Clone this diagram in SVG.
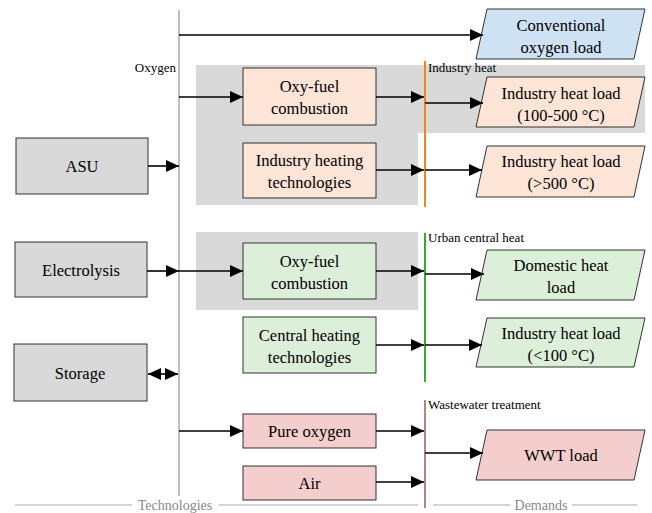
<svg xmlns="http://www.w3.org/2000/svg" width="652" height="513" viewBox="0 0 652 513">
<defs>
<marker id="ah" markerUnits="userSpaceOnUse" markerWidth="13" markerHeight="12" refX="13" refY="6" orient="auto-start-reverse"><path d="M0,0 L13,6 L0,12 z" fill="#000"/></marker>
<style>
.t{font-size:16.5px;text-anchor:middle;fill:#000}
.s{font-size:13px;fill:#000}
.g{font-size:14px;fill:#888;text-anchor:middle}
.box{stroke:#333;stroke-width:1}
.gray{fill:#d9d9d9}
.or{fill:#fce4d6}
.gr{fill:#dcefd9}
.pk{fill:#f4cdcd}
.bl{fill:#cfe2f3}
.c{stroke:#000;stroke-width:1.6;fill:none}
.a{marker-end:url(#ah)}
</style>
</defs>
<g id="backgrounds">
<path d="M196,65 H645 V133 H418 V205 H196 Z" fill="#d9d9d9"/>
<rect x="196" y="232" width="222" height="78" fill="#d9d9d9"/>
</g>
<g id="axes">
<line x1="179" y1="10" x2="179" y2="496" stroke="#aaa" stroke-width="1.5"/>
<line x1="15" y1="505" x2="132" y2="505" stroke="#aaa" stroke-width="1.2"/>
<line x1="219" y1="505" x2="418" y2="505" stroke="#aaa" stroke-width="1.2"/>
<text class="g" font-family="Liberation Serif" x="175" y="510">Technologies</text>
<line x1="433" y1="505" x2="510" y2="505" stroke="#aaa" stroke-width="1.2"/>
<line x1="572" y1="505" x2="637" y2="505" stroke="#aaa" stroke-width="1.2"/>
<text class="g" font-family="Liberation Serif" x="541" y="510">Demands</text>
<text class="s" font-family="Liberation Serif" x="176" y="72" text-anchor="end">Oxygen</text>
</g>
<g id="buses">
<line x1="425" y1="61" x2="425" y2="207" stroke="#f5831f" stroke-width="2"/>
<text class="s" font-family="Liberation Serif" x="428" y="72">Industry heat</text>
<line x1="425" y1="233" x2="425" y2="382" stroke="#3aa53a" stroke-width="2"/>
<text class="s" font-family="Liberation Serif" x="428" y="242">Urban central heat</text>
<line x1="425" y1="400" x2="425" y2="508" stroke="#9a6a5e" stroke-width="1.6"/>
<text class="s" font-family="Liberation Serif" x="428" y="409">Wastewater treatment</text>
</g>
<g id="asu"><rect class="box gray" x="16" y="138" width="132" height="56"/><text class="t" font-family="Liberation Serif" x="82" y="172">ASU</text></g>
<g id="electrolysis"><rect class="box gray" x="15" y="242" width="132" height="55"/><text class="t" font-family="Liberation Serif" x="81" y="276">Electrolysis</text></g>
<g id="storage"><rect class="box gray" x="14" y="344" width="133" height="57"/><text class="t" font-family="Liberation Serif" x="80" y="379">Storage</text></g>
<g id="oxyfuel-industry"><rect class="box or" x="243" y="68" width="133" height="57"/><text class="t" font-family="Liberation Serif" x="309.5" y="92">Oxy-fuel</text><text class="t" font-family="Liberation Serif" x="309.5" y="114">combustion</text></g>
<g id="industry-heating-tech"><rect class="box or" x="243" y="143" width="133" height="55"/><text class="t" font-family="Liberation Serif" x="309.5" y="166">Industry heating</text><text class="t" font-family="Liberation Serif" x="309.5" y="188">technologies</text></g>
<g id="oxyfuel-urban"><rect class="box gr" x="243" y="243" width="133" height="56"/><text class="t" font-family="Liberation Serif" x="309.5" y="267">Oxy-fuel</text><text class="t" font-family="Liberation Serif" x="309.5" y="289">combustion</text></g>
<g id="central-heating-tech"><rect class="box gr" x="243" y="317" width="133" height="56"/><text class="t" font-family="Liberation Serif" x="309.5" y="341">Central heating</text><text class="t" font-family="Liberation Serif" x="309.5" y="363">technologies</text></g>
<g id="pure-oxygen"><rect class="box pk" x="243" y="414" width="133" height="34"/><text class="t" font-family="Liberation Serif" x="309.5" y="437">Pure oxygen</text></g>
<g id="air"><rect class="box pk" x="243" y="466" width="133" height="34"/><text class="t" font-family="Liberation Serif" x="309.5" y="489">Air</text></g>
<g id="conventional-oxygen-load"><path class="box bl" d="M487,9 H645 L634,59 H476 Z"/><text class="t" font-family="Liberation Serif" x="561" y="31">Conventional</text><text class="t" font-family="Liberation Serif" x="561" y="53">oxygen load</text></g>
<g id="industry-heat-100-500"><path class="box or" d="M487,77 H645 L634,127 H476 Z"/><text class="t" font-family="Liberation Serif" x="561" y="99">Industry heat load</text><text class="t" font-family="Liberation Serif" x="561" y="121">(100-500 °C)</text></g>
<g id="industry-heat-500"><path class="box or" d="M487,146 H645 L634,197 H476 Z"/><text class="t" font-family="Liberation Serif" x="561" y="167">Industry heat load</text><text class="t" font-family="Liberation Serif" x="561" y="189">(&gt;500 °C)</text></g>
<g id="domestic-heat"><path class="box gr" d="M487,250 H645 L634,300 H476 Z"/><text class="t" font-family="Liberation Serif" x="561" y="271">Domestic heat</text><text class="t" font-family="Liberation Serif" x="561" y="293">load</text></g>
<g id="industry-heat-100"><path class="box gr" d="M487,318 H645 L634,367 H476 Z"/><text class="t" font-family="Liberation Serif" x="561" y="339">Industry heat load</text><text class="t" font-family="Liberation Serif" x="561" y="361">(&lt;100 °C)</text></g>
<g id="wwt-load"><path class="box pk" d="M487,430 H645 L634,480 H476 Z"/><text class="t" font-family="Liberation Serif" x="561" y="461">WWT load</text></g>
<g id="connectors">
<line class="c a" x1="179" y1="35" x2="483" y2="35"/>
<line class="c a" x1="179" y1="97" x2="243" y2="97"/>
<line class="c a" x1="148" y1="166" x2="179" y2="166"/>
<line class="c a" x1="376" y1="97" x2="424" y2="97"/>
<line class="c a" x1="425" y1="103" x2="483" y2="103"/>
<line class="c a" x1="376" y1="170" x2="424" y2="170"/>
<line class="c a" x1="425" y1="170" x2="482" y2="170"/>
<line class="c a" x1="147" y1="271" x2="179" y2="271"/>
<line class="c a" x1="179" y1="271" x2="243" y2="271"/>
<line class="c a" x1="376" y1="271" x2="424" y2="271"/>
<line class="c a" x1="425" y1="274" x2="484" y2="274"/>
<line class="c a" x1="376" y1="345" x2="424" y2="345"/>
<line class="c a" x1="425" y1="345" x2="482" y2="345"/>
<line class="c a" x1="148" y1="374" x2="178" y2="374" marker-start="url(#ah)"/>
<line class="c a" x1="179" y1="431" x2="243" y2="431"/>
<line class="c a" x1="376" y1="431" x2="424" y2="431"/>
<line class="c a" x1="376" y1="482" x2="424" y2="482"/>
<line class="c a" x1="425" y1="453" x2="483" y2="453"/>
</g>
</svg>
